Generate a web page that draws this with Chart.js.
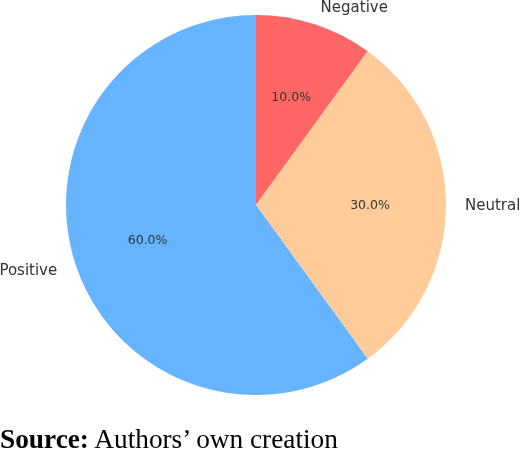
<!DOCTYPE html>
<html>
<head>
<meta charset="utf-8">
<script src="https://cdn.jsdelivr.net/npm/chart.js@4/dist/chart.umd.min.js"></script>
<style>
  html, body { margin: 0; padding: 0; background: #fff; }
  #wrap { position: relative; width: 520px; height: 451px; overflow: hidden; }
  #chart { position: absolute; left: 0; top: 0; }
  #source {
    position: absolute; left: 0; top: 426px;
    font-family: "Liberation Serif", "Times New Roman", serif;
    font-size: 27.3px; line-height: 27.3px; color: #000; white-space: nowrap;
  }
</style>
</head>
<body>
<div id="wrap">
  <canvas id="chart" width="520" height="451"></canvas>
  <div id="source"><b>Source:</b> Authors’ own creation</div>
</div>
<script>
const labels = ['Negative', 'Neutral', 'Positive'];
const shares = [10, 30, 60];
const colors = ['#ff6666', '#ffcc99', '#66b3ff'];

// matplotlib-style labels: names at 1.1r, percentages at 0.6r
const pieLabels = {
  id: 'pieLabels',
  afterDraw(chart) {
    const ctx = chart.ctx;
    const meta = chart.getDatasetMeta(0);
    const total = shares.reduce((a, b) => a + b, 0);
    ctx.save();
    ctx.fillStyle = '#333';
    ctx.textBaseline = 'middle';
    meta.data.forEach((arc, i) => {
      const mid = (arc.startAngle + arc.endAngle) / 2;
      const r = arc.outerRadius;
      const cx = Math.cos(mid), cy = Math.sin(mid);

      ctx.font = '15px "DejaVu Sans"';
      ctx.textAlign = cx >= 0.001 ? 'left' : (cx <= -0.001 ? 'right' : 'center');
      ctx.fillText(labels[i], arc.x + cx * r * 1.1, arc.y + cy * r * 1.1 + 1.5);

      ctx.font = '12.5px "DejaVu Sans"';
      ctx.textAlign = 'center';
      const pct = (shares[i] / total * 100).toFixed(1) + '%';
      ctx.fillText(pct, arc.x + cx * r * 0.6, arc.y + cy * r * 0.6 + 1);
    });
    ctx.restore();
  }
};

new Chart(document.getElementById('chart'), {
  type: 'pie',
  data: {
    labels: labels,
    datasets: [{
      data: shares,
      backgroundColor: colors,
      borderWidth: 0
    }]
  },
  options: {
    responsive: false,
    animation: false,
    layout: { padding: { left: 66, top: 15, right: 74, bottom: 56 } },
    plugins: { legend: { display: false }, tooltip: { enabled: false } }
  },
  plugins: [pieLabels]
});
</script>
</body>
</html>
